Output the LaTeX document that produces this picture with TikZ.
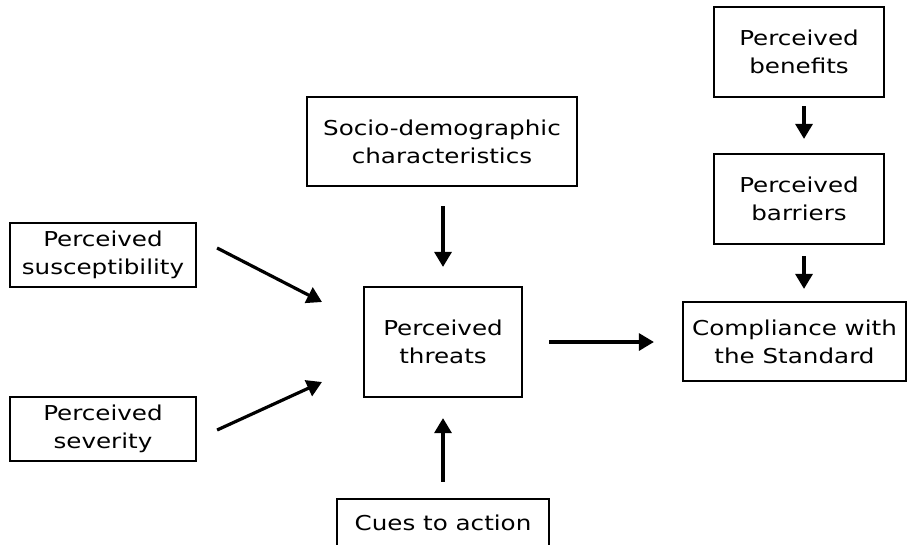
\documentclass[tikz,border=0pt]{standalone}
\usepackage{fontspec}
\setmainfont{DejaVu Sans}[FakeStretch=1.2]
\usetikzlibrary{arrows.meta}
\tikzset{
  box/.style={draw, line width=2.2pt, align=center, inner sep=0pt,
    font=\fontsize{20.5pt}{28pt}\selectfont},
  arr/.style={line width=3.2pt, -{Triangle[length=15pt,width=17pt]}}
}
\begin{document}
\begin{tikzpicture}[x=1pt,y=-1pt]
\useasboundingbox (0,0) rectangle (907,544);
\node[box, minimum width=186pt, minimum height=64pt] (susc) at (103,255) {Perceived\\susceptibility};
\node[box, minimum width=186pt, minimum height=64pt] (sev) at (103,429) {Perceived\\severity};
\node[box, minimum width=270pt, minimum height=89pt] (socio) at (442,141.5) {Socio-demographic\\characteristics};
\node[box, minimum width=158pt, minimum height=110pt] (threats) at (443,342) {Perceived\\threats};
\node[box, minimum width=212pt, minimum height=48pt] (cues) at (443,523) {Cues to action};
\node[box, minimum width=170pt, minimum height=90pt] (ben) at (799,52) {Perceived\\benefits};
\node[box, minimum width=170pt, minimum height=90pt] (bar) at (799,199) {Perceived\\barriers};
\node[box, minimum width=223pt, minimum height=79pt] (comp) at (794.5,341.5) {Compliance with\\the Standard};
\coordinate (tin1) at (322,302);
\coordinate (tin2) at (322,382);
\draw[arr] ([shift={(20pt,7pt)}]susc.east) -- (tin1);
\draw[arr] ([shift={(20pt,-1pt)}]sev.east) -- (tin2);
\draw[arr, shorten <=19pt, shorten >=19pt] (socio.south -| threats.north) -- (threats.north);
\draw[arr, shorten <=16pt, shorten >=20pt] (cues.north) -- (threats.south);
\draw[arr, shorten <=26pt, shorten >=28pt] (threats.east) -- (threats.east -| comp.west);
\draw[arr, shorten <=8pt, shorten >=14pt] ([xshift=5pt]ben.south) -- ([xshift=5pt]bar.north);
\draw[arr, shorten <=11pt, shorten >=12pt] ([xshift=5pt]bar.south) -- ([xshift=5pt]bar.south |- comp.north);
\end{tikzpicture}
\end{document}
